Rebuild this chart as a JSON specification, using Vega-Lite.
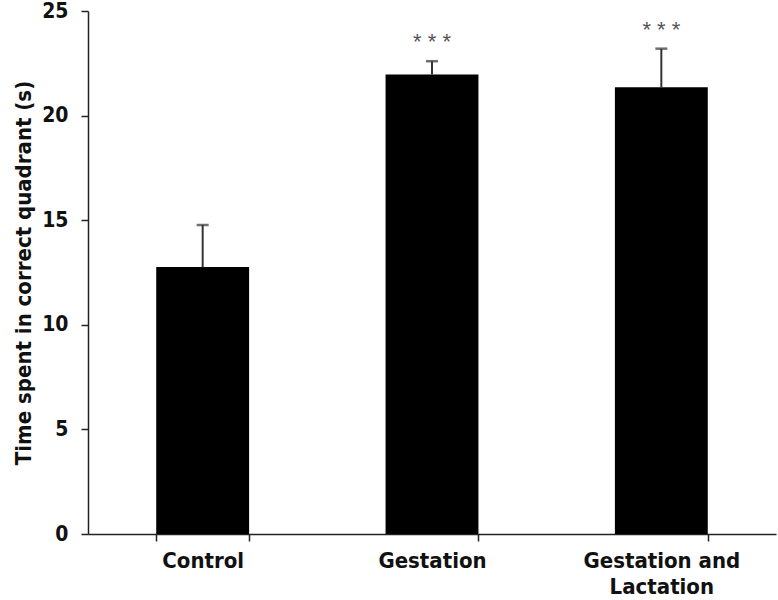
{
  "$schema": "https://vega.github.io/schema/vega-lite/v6.json",
  "width": 688,
  "height": 523,
  "autosize": "none",
  "padding": {"left": 88, "top": 11, "right": 2, "bottom": 66},
  "background": "white",
  "config": {
    "view": {"stroke": null},
    "font": "DejaVu Sans Condensed, Liberation Sans, sans-serif",
    "axis": {
      "domainColor": "#222",
      "domainWidth": 1.5,
      "tickColor": "#222",
      "tickWidth": 1.5,
      "tickSize": 7,
      "labelColor": "#111",
      "labelFont": "DejaVu Sans Condensed, Liberation Sans, sans-serif",
      "labelFontWeight": "bold",
      "titleFont": "DejaVu Sans Condensed, Liberation Sans, sans-serif",
      "titleFontWeight": "bold",
      "titleColor": "#111",
      "grid": false
    }
  },
  "data": {
    "values": [
      {"group": "Control", "mean": 12.76, "upper": 14.77, "sig": ""},
      {"group": "Gestation", "mean": 21.96, "upper": 22.6, "sig": "* * *"},
      {"group": "Gestation and Lactation", "mean": 21.35, "upper": 23.2, "sig": "* * *"}
    ]
  },
  "encoding": {
    "x": {
      "field": "group",
      "type": "nominal",
      "sort": null,
      "scale": {"paddingInner": 0.595, "paddingOuter": 0.2975},
      "axis": {
        "title": null,
        "labelAngle": 0,
        "labelFontSize": 22,
        "labelPadding": 9,
        "labelLineHeight": 26,
        "labelBaseline": "top",
        "tickBand": "extent",
        "labelExpr": "datum.value == 'Gestation and Lactation' ? ['Gestation and', 'Lactation'] : datum.label"
      }
    }
  },
  "layer": [
    {
      "mark": {"type": "bar", "color": "#000"},
      "encoding": {
        "y": {
          "field": "mean",
          "type": "quantitative",
          "scale": {"domain": [0, 25], "nice": false},
          "axis": {
            "values": [0, 5, 10, 15, 20, 25],
            "labelFontSize": 21,
            "labelPadding": 13,
            "title": "Time spent in correct quadrant (s)",
            "titleFontSize": 22,
            "titleBaseline": "alphabetic",
            "titleX": -58,
            "titleY": 261.5,
            "titleAngle": -90
          }
        }
      }
    },
    {
      "mark": {"type": "rule", "color": "#333", "strokeWidth": 2},
      "encoding": {
        "y": {"field": "mean", "type": "quantitative"},
        "y2": {"field": "upper"}
      }
    },
    {
      "mark": {"type": "tick", "color": "#333", "thickness": 2.5, "size": 12, "orient": "horizontal"},
      "encoding": {
        "y": {"field": "upper", "type": "quantitative"}
      }
    },
    {
      "mark": {"type": "text", "color": "#555", "fontSize": 22, "font": "Liberation Sans", "baseline": "alphabetic", "dy": -12},
      "encoding": {
        "y": {"field": "upper", "type": "quantitative"},
        "text": {"field": "sig"}
      }
    }
  ]
}
